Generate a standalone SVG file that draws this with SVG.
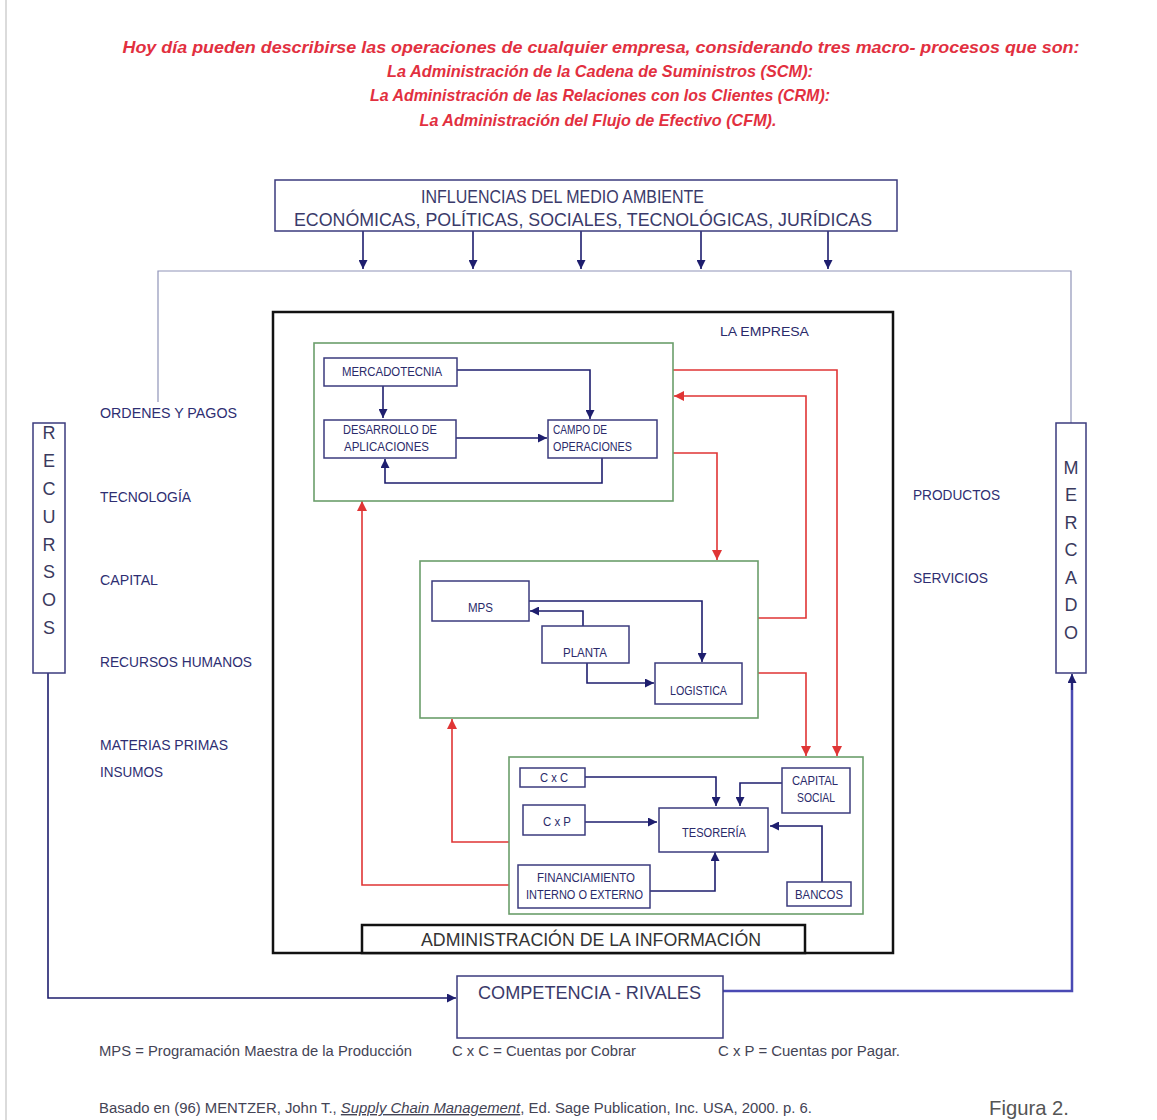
<svg xmlns="http://www.w3.org/2000/svg" width="1157" height="1120" viewBox="0 0 1157 1120">
  <defs>
    <style>
      text { font-family: "Liberation Sans", Arial, sans-serif; }
      .bg { fill: #ffffff; }
      .nb { fill: #ffffff; stroke: #3b3b7e; stroke-width: 1.5; }
      .gb { fill: none; stroke: #6b9e6b; stroke-width: 1.6; }
      .cn { fill: none; stroke: #1e1e6e; stroke-width: 1.6; }
      .cr { fill: none; stroke: #e03535; stroke-width: 1.6; }
      .env { fill: none; stroke: #9094b8; stroke-width: 1.2; }
      .head { font-size: 17px; font-weight: bold; font-style: italic; fill: #e2303f; text-anchor: middle; }
      .infl { font-size: 19px; fill: #3a3a6a; }
      .side { font-size: 15px; fill: #2e2e72; }
      .lbl { font-size: 12px; fill: #2a2a6a; }
      .vert { font-size: 18px; fill: #3a3a5e; text-anchor: middle; }
      .foot { font-size: 14px; fill: #444455; }
    </style>
    <marker id="an" viewBox="0 0 10 10" refX="10" refY="5" markerWidth="9" markerHeight="9" markerUnits="userSpaceOnUse" orient="auto">
      <path d="M0,0 L10,5 L0,10 z" fill="#1e1e6e"/>
    </marker>
    <marker id="ar" viewBox="0 0 10 10" refX="10" refY="5" markerWidth="10" markerHeight="10" markerUnits="userSpaceOnUse" orient="auto">
      <path d="M0,0 L10,5 L0,10 z" fill="#e03535"/>
    </marker>
  </defs>

  <rect class="bg" x="0" y="0" width="1157" height="1120"/>
  <line x1="6" y1="0" x2="6" y2="1120" stroke="#cfcfcf" stroke-width="1.5"/>

  <!-- heading -->
  <g id="heading">
    <text class="head" x="601" y="53" textLength="957" lengthAdjust="spacingAndGlyphs">Hoy día pueden describirse las operaciones de cualquier empresa, considerando tres macro- procesos que son:</text>
    <text class="head" x="600" y="77" textLength="426" lengthAdjust="spacingAndGlyphs">La Administración de la Cadena de Suministros (SCM):</text>
    <text class="head" x="600" y="101" textLength="460" lengthAdjust="spacingAndGlyphs">La Administración de las Relaciones con los Clientes (CRM):</text>
    <text class="head" x="598" y="126" textLength="357" lengthAdjust="spacingAndGlyphs">La Administración del Flujo de Efectivo (CFM).</text>
  </g>

  <!-- connectors -->
  <g id="connectors">
    <!-- environment influences -->
    <polyline class="env" points="158,402 158,271 1071,271 1071,423"/>
    <line class="cn" x1="363" y1="231" x2="363" y2="269" marker-end="url(#an)"/>
    <line class="cn" x1="473" y1="231" x2="473" y2="269" marker-end="url(#an)"/>
    <line class="cn" x1="581" y1="231" x2="581" y2="269" marker-end="url(#an)"/>
    <line class="cn" x1="701" y1="231" x2="701" y2="269" marker-end="url(#an)"/>
    <line class="cn" x1="828" y1="231" x2="828" y2="269" marker-end="url(#an)"/>

    <!-- resources to competition, competition to market -->
    <polyline class="cn" points="48,673 48,998 456,998" marker-end="url(#an)"/>
    <polyline fill="none" stroke="#4a4ab4" stroke-width="2.5" points="723,991 1072,991 1072,676"/>
    <line class="cn" x1="1072" y1="690" x2="1072" y2="674" marker-end="url(#an)"/>

    <!-- inside process 1 -->
    <line class="cn" x1="383" y1="386" x2="383" y2="418" marker-end="url(#an)"/>
    <polyline class="cn" points="457,370 590,370 590,419" marker-end="url(#an)"/>
    <line class="cn" x1="456" y1="438" x2="547" y2="438" marker-end="url(#an)"/>
    <polyline class="cn" points="602,458 602,483 385,483 385,459" marker-end="url(#an)"/>

    <!-- inside process 2 -->
    <polyline class="cn" points="529,601 702,601 702,662" marker-end="url(#an)"/>
    <polyline class="cn" points="583,626 583,611 530,611" marker-end="url(#an)"/>
    <polyline class="cn" points="587,663 587,683 654,683" marker-end="url(#an)"/>

    <!-- inside process 3 -->
    <polyline class="cn" points="585,777 716,777 716,806" marker-end="url(#an)"/>
    <polyline class="cn" points="782,783 740,783 740,806" marker-end="url(#an)"/>
    <line class="cn" x1="585" y1="822" x2="657" y2="822" marker-end="url(#an)"/>
    <polyline class="cn" points="650,891 715,891 715,852" marker-end="url(#an)"/>
    <polyline class="cn" points="822,882 822,826 770,826" marker-end="url(#an)"/>

    <!-- flows between processes -->
    <polyline class="cr" points="673,370 837,370 837,756" marker-end="url(#ar)"/>
    <polyline class="cr" points="758,618 806,618 806,396 674,396" marker-end="url(#ar)"/>
    <polyline class="cr" points="673,453 717,453 717,560" marker-end="url(#ar)"/>
    <polyline class="cr" points="758,673 806,673 806,756" marker-end="url(#ar)"/>
    <polyline class="cr" points="509,842 452,842 452,719" marker-end="url(#ar)"/>
    <polyline class="cr" points="509,885 362,885 362,501" marker-end="url(#ar)"/>
  </g>

  <!-- environment box -->
  <g id="influencias">
    <rect class="nb" x="275" y="180" width="622" height="51"/>
    <text class="infl" x="421" y="203" textLength="283" lengthAdjust="spacingAndGlyphs">INFLUENCIAS DEL MEDIO AMBIENTE</text>
    <text class="infl" x="294" y="226" textLength="578" lengthAdjust="spacingAndGlyphs">ECONÓMICAS, POLÍTICAS, SOCIALES, TECNOLÓGICAS, JURÍDICAS</text>
  </g>

  <!-- resources column -->
  <g id="recursos">
    <rect class="nb" x="33" y="423" width="32" height="250"/>
    <text class="vert" x="49" y="439">R</text>
    <text class="vert" x="49" y="467">E</text>
    <text class="vert" x="49" y="495">C</text>
    <text class="vert" x="49" y="523">U</text>
    <text class="vert" x="49" y="551">R</text>
    <text class="vert" x="49" y="578">S</text>
    <text class="vert" x="49" y="606">O</text>
    <text class="vert" x="49" y="634">S</text>
  </g>

  <g id="recursos-lista">
    <text class="side" x="100" y="418" textLength="137" lengthAdjust="spacingAndGlyphs">ORDENES Y PAGOS</text>
    <text class="side" x="100" y="502" textLength="91" lengthAdjust="spacingAndGlyphs">TECNOLOGÍA</text>
    <text class="side" x="100" y="585" textLength="58" lengthAdjust="spacingAndGlyphs">CAPITAL</text>
    <text class="side" x="100" y="667" textLength="152" lengthAdjust="spacingAndGlyphs">RECURSOS HUMANOS</text>
    <text class="side" x="100" y="750" textLength="128" lengthAdjust="spacingAndGlyphs">MATERIAS PRIMAS</text>
    <text class="side" x="100" y="777" textLength="63" lengthAdjust="spacingAndGlyphs">INSUMOS</text>
  </g>

  <!-- market column -->
  <g id="mercado">
    <rect class="nb" x="1056" y="423" width="30" height="250"/>
    <text class="vert" x="1071" y="474">M</text>
    <text class="vert" x="1071" y="501">E</text>
    <text class="vert" x="1071" y="529">R</text>
    <text class="vert" x="1071" y="556">C</text>
    <text class="vert" x="1071" y="584">A</text>
    <text class="vert" x="1071" y="611">D</text>
    <text class="vert" x="1071" y="639">O</text>
  </g>

  <g id="mercado-lista">
    <text class="side" x="913" y="500" textLength="87" lengthAdjust="spacingAndGlyphs">PRODUCTOS</text>
    <text class="side" x="913" y="583" textLength="75" lengthAdjust="spacingAndGlyphs">SERVICIOS</text>
  </g>

  <!-- the company -->
  <g id="empresa">
    <rect x="273" y="312" width="620" height="641" fill="none" stroke="#111111" stroke-width="2.5"/>
    <text x="720" y="336" font-size="13" fill="#2a2a6a" textLength="89" lengthAdjust="spacingAndGlyphs">LA EMPRESA</text>
  </g>

  <!-- process 1: market side -->
  <g id="proceso-crm">
    <rect class="gb" x="314" y="343" width="359" height="158"/>
  </g>
  <g id="mercadotecnia">
    <rect class="nb" x="324" y="358" width="133" height="28"/>
    <text class="lbl" x="342" y="376" textLength="100" lengthAdjust="spacingAndGlyphs">MERCADOTECNIA</text>
  </g>
  <g id="desarrollo">
    <rect class="nb" x="324" y="420" width="132" height="38"/>
    <text class="lbl" x="343" y="434" textLength="94" lengthAdjust="spacingAndGlyphs">DESARROLLO DE</text>
    <text class="lbl" x="344" y="451" textLength="85" lengthAdjust="spacingAndGlyphs">APLICACIONES</text>
  </g>
  <g id="campo">
    <rect class="nb" x="548" y="420" width="109" height="38"/>
    <text class="lbl" x="553" y="434" textLength="54" lengthAdjust="spacingAndGlyphs">CAMPO DE</text>
    <text class="lbl" x="553" y="451" textLength="79" lengthAdjust="spacingAndGlyphs">OPERACIONES</text>
  </g>

  <!-- process 2: supply side -->
  <g id="proceso-scm">
    <rect class="gb" x="420" y="561" width="338" height="157"/>
  </g>
  <g id="mps">
    <rect class="nb" x="432" y="581" width="97" height="40"/>
    <text class="lbl" x="468" y="612" textLength="25" lengthAdjust="spacingAndGlyphs">MPS</text>
  </g>
  <g id="planta">
    <rect class="nb" x="542" y="626" width="87" height="37"/>
    <text class="lbl" x="563" y="657" textLength="44" lengthAdjust="spacingAndGlyphs">PLANTA</text>
  </g>
  <g id="logistica">
    <rect class="nb" x="655" y="663" width="87" height="41"/>
    <text class="lbl" x="670" y="695" textLength="57" lengthAdjust="spacingAndGlyphs">LOGISTICA</text>
  </g>

  <!-- process 3: cash flow -->
  <g id="proceso-cfm">
    <rect class="gb" x="509" y="757" width="354" height="157"/>
  </g>
  <g id="cxc">
    <rect class="nb" x="520" y="768" width="65" height="19"/>
    <text class="lbl" x="540" y="782" textLength="28" lengthAdjust="spacingAndGlyphs">C x C</text>
  </g>
  <g id="cxp">
    <rect class="nb" x="523" y="805" width="62" height="30"/>
    <text class="lbl" x="543" y="826" textLength="28" lengthAdjust="spacingAndGlyphs">C x P</text>
  </g>
  <g id="tesoreria">
    <rect class="nb" x="659" y="808" width="109" height="44"/>
    <text class="lbl" x="682" y="837" textLength="64" lengthAdjust="spacingAndGlyphs">TESORERÍA</text>
  </g>
  <g id="capital-social">
    <rect class="nb" x="782" y="768" width="68" height="45"/>
    <text class="lbl" x="792" y="785" textLength="46" lengthAdjust="spacingAndGlyphs">CAPITAL</text>
    <text class="lbl" x="797" y="802" textLength="38" lengthAdjust="spacingAndGlyphs">SOCIAL</text>
  </g>
  <g id="financiamiento">
    <rect class="nb" x="518" y="865" width="132" height="43"/>
    <text class="lbl" x="537" y="882" textLength="98" lengthAdjust="spacingAndGlyphs">FINANCIAMIENTO</text>
    <text class="lbl" x="526" y="899" textLength="117" lengthAdjust="spacingAndGlyphs">INTERNO O EXTERNO</text>
  </g>
  <g id="bancos">
    <rect class="nb" x="787" y="882" width="64" height="24"/>
    <text class="lbl" x="795" y="899" textLength="48" lengthAdjust="spacingAndGlyphs">BANCOS</text>
  </g>

  <!-- information management bar -->
  <g id="administracion-informacion">
    <rect x="362" y="925" width="443" height="28" fill="#ffffff" stroke="#111111" stroke-width="2.5"/>
    <text x="421" y="946" font-size="18" fill="#333333" textLength="340" lengthAdjust="spacingAndGlyphs">ADMINISTRACIÓN DE LA INFORMACIÓN</text>
  </g>

  <!-- competition -->
  <g id="competencia">
    <rect class="nb" x="457" y="976" width="266" height="62"/>
    <text x="478" y="999" font-size="19" fill="#3a3a6a" textLength="223" lengthAdjust="spacingAndGlyphs">COMPETENCIA - RIVALES</text>
  </g>

  <!-- notes -->
  <g id="notas">
    <text class="foot" x="99" y="1056" textLength="313" lengthAdjust="spacingAndGlyphs">MPS = Programación Maestra de la Producción</text>
    <text class="foot" x="452" y="1056" textLength="184" lengthAdjust="spacingAndGlyphs">C x C = Cuentas por Cobrar</text>
    <text class="foot" x="718" y="1056" textLength="182" lengthAdjust="spacingAndGlyphs">C x P = Cuentas por Pagar.</text>
    <text class="foot" x="99" y="1113" font-size="13" textLength="713" lengthAdjust="spacingAndGlyphs">Basado en  (96) MENTZER, John T., <tspan font-style="italic" text-decoration="underline">Supply Chain Management</tspan>, Ed. Sage Publication, Inc. USA, 2000. p. 6.</text>
    <text x="989" y="1115" font-size="21" fill="#555555" textLength="80" lengthAdjust="spacingAndGlyphs">Figura 2.</text>
  </g>
</svg>
